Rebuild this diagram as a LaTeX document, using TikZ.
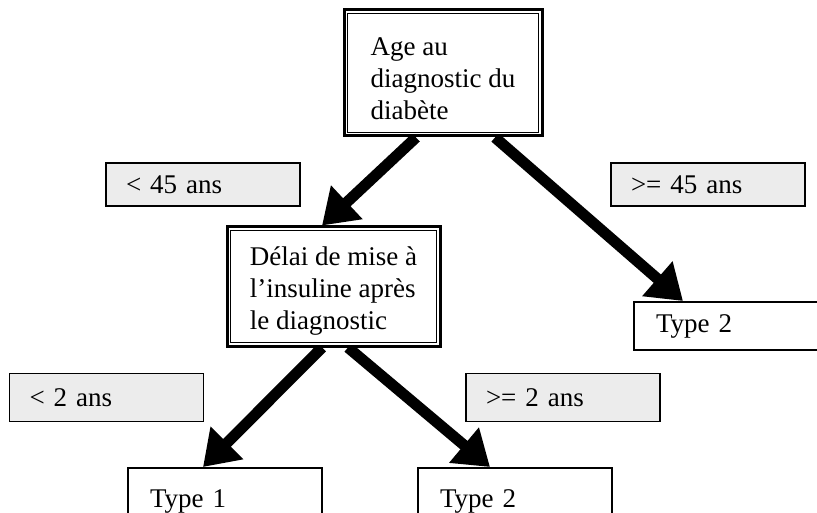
\documentclass[tikz,border=0pt]{standalone}
\usepackage{fontspec}
\setmainfont{Liberation Serif}
\usetikzlibrary{arrows.meta,backgrounds}
\tikzset{
  txt/.style={font=\fontsize{27}{32}\selectfont},
  dbox/.style={draw, line width=3pt, fill=white, inner sep=0pt},
  dtext/.style={txt, align=left, inner sep=0pt},
  labbox/.style={txt, draw, line width=1.5pt, fill=gray!15, minimum width=194pt,
     text width=154pt, inner xsep=20pt, inner ysep=0pt, align=left},
  resbox/.style={txt, draw, line width=2pt, fill=white, minimum width=194pt,
     text width=150pt, inner xsep=22pt, inner ysep=0pt, align=left},
  bigarrow/.style={line width=11pt, -{Triangle[length=34pt,width=44pt]}},
  innerline/.style={line width=1.3pt}
}
\begin{document}
\begin{tikzpicture}[x=1pt,y=-1pt]
\useasboundingbox (0,0) rectangle (817,513);
\clip (0,0) rectangle (817,513);

\node[dbox, minimum width=198pt, minimum height=126pt] (top) at (443,73) {};
\node[dbox, minimum width=213pt, minimum height=119pt] (mid) at (333.5,286.5) {};

\draw[innerline] ([xshift=5pt,yshift=-5pt]top.north west) rectangle ([xshift=-5pt,yshift=5pt]top.south east);
\draw[innerline] ([xshift=5pt,yshift=-5pt]mid.north west) rectangle ([xshift=-5pt,yshift=5pt]mid.south east);

\node[dtext] (toptext) at ([yshift=-6pt]top.center) {Age au\\diagnostic du\\diabète};
\node[dtext] (midtext) at ([yshift=-5pt]mid.center) {Délai de mise à\\l’insuline après\\le diagnostic};

\node[labbox, minimum height=43pt] (l1) at (203,184.5) {< 45 ans};
\node[labbox, minimum height=43pt] (l2) at (708,184.5) {>= 45 ans};
\node[labbox, minimum height=48pt] (l3) at (106.5,397.5) {< 2 ans};
\node[labbox, minimum height=48pt] (l4) at (563,397.5) {>= 2 ans};

\node[resbox, minimum height=48pt] (r1) at (731,326) {Type 2};
\node[resbox, minimum height=66pt] (b1) at (225,501) {Type 1};
\node[resbox, minimum height=66pt] (b2) at (515,501) {Type 2};

\begin{scope}[on background layer]
\draw[bigarrow] ([xshift=-27pt]top.south) -- ([xshift=-11.5pt]mid.north);
\draw[bigarrow] ([xshift=52pt]top.south) -- ([xshift=-48pt]r1.north);
\draw[bigarrow] ([xshift=-11.5pt]mid.south) -- ([xshift=-22pt]b1.north);
\draw[bigarrow] ([xshift=14.5pt]mid.south) -- ([xshift=-25pt]b2.north);
\end{scope}
\end{tikzpicture}
\end{document}
